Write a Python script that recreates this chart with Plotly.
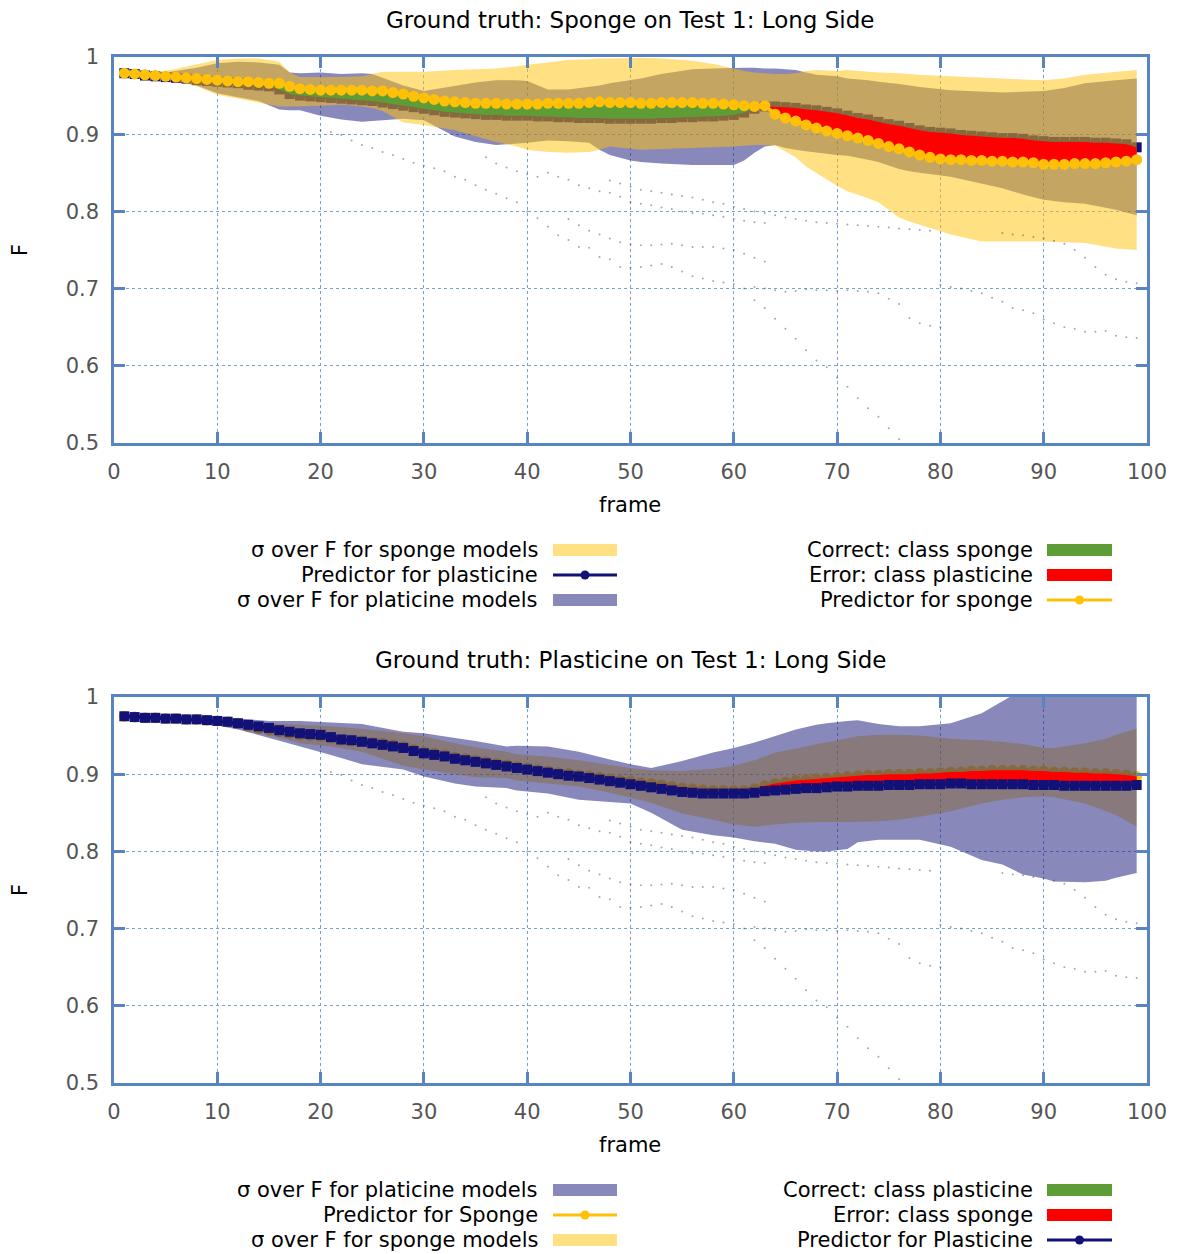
import plotly.graph_objects as go

W, H = 1182, 1254
frames = list(range(1, 100))

# ---------------- TOP: ground truth sponge ----------------
top_sponge_pred = [0.979,0.978,0.977,0.976,0.975,0.974,0.973,0.972,0.971,0.970,
 0.969,0.968,0.968,0.967,0.966,0.966,0.962,0.959,0.958,0.957,
 0.957,0.957,0.957,0.957,0.956,0.956,0.954,0.952,0.949,0.947,
 0.945,0.943,0.942,0.941,0.940,0.940,0.940,0.939,0.939,0.939,
 0.939,0.940,0.940,0.940,0.940,0.941,0.942,0.941,0.941,0.941,
 0.940,0.940,0.941,0.941,0.941,0.941,0.940,0.940,0.939,0.938,
 0.937,0.936,0.937,0.926,0.921,0.917,0.912,0.908,0.904,0.901,
 0.898,0.895,0.892,0.888,0.884,0.881,0.877,0.873,0.870,0.868,
 0.867,0.867,0.866,0.866,0.865,0.865,0.864,0.864,0.863,0.861,
 0.861,0.861,0.862,0.862,0.862,0.863,0.864,0.865,0.867]
top_plast_pred = [0.979,0.978,0.976,0.975,0.974,0.973,0.972,0.970,0.969,0.968,
 0.967,0.966,0.964,0.963,0.962,0.958,0.952,0.950,0.949,0.948,
 0.947,0.946,0.945,0.944,0.943,0.941,0.939,0.937,0.935,0.933,
 0.931,0.929,0.928,0.927,0.926,0.925,0.925,0.924,0.924,0.924,
 0.923,0.923,0.922,0.922,0.921,0.921,0.921,0.920,0.920,0.920,
 0.920,0.920,0.921,0.921,0.922,0.922,0.923,0.923,0.924,0.925,
 0.928,0.933,0.936,0.936,0.935,0.934,0.932,0.931,0.929,0.927,
 0.924,0.921,0.919,0.916,0.913,0.911,0.908,0.905,0.903,0.902,
 0.901,0.899,0.898,0.897,0.896,0.895,0.895,0.894,0.892,0.891,
 0.890,0.890,0.890,0.890,0.889,0.889,0.888,0.887,0.883]

top_band_frames = [1,3,5,8,10,12,14,16,17,18,20,22,24,25,26,28,30,33,35,37,39,40,42,44,46,47,48,50,51,53,
                   56,58,60,61,62,63,64,65,66,67,68,70,71,73,74,76,77,78,81,84,86,88,90,92,94,97,99]
top_sponge_up = [.982,.981,.982,.990,.996,.998,.998,.994,.980,.974,.974,.974,.975,.978,.981,.981,.981,.983,.984,.985,
                 .988,.990,.993,.996,.997,.998,.998,.999,.999,.998,.995,.991,.985,.982,.980,.979,.978,.978,.979,.982,
                 .983,.982,.983,.981,.980,.979,.978,.977,.975,.973,.972,.971,.970,.972,.977,.981,.983]
top_sponge_lo = [.976,.974,.972,.962,.951,.946,.941,.936,.936,.936,.937,.938,.936,.934,.930,.915,.912,.905,.898,.890,
                 .884,.880,.877,.876,.877,.880,.884,.881,.880,.881,.882,.883,.884,.885,.886,.886,.885,.878,.870,.858,
                 .850,.833,.826,.817,.812,.792,.787,.782,.770,.761,.761,.761,.761,.760,.759,.752,.750]
top_plast_up = [.980,.979,.980,.986,.992,.994,.993,.990,.980,.979,.980,.978,.979,.978,.973,.963,.956,.963,.967,.970,
                .970,.969,.958,.958,.961,.963,.966,.970,.972,.978,.984,.985,.986,.986,.986,.985,.985,.984,.983,.980,
                .977,.975,.972,.970,.968,.965,.963,.961,.957,.955,.954,.955,.956,.960,.966,.970,.972]
top_plast_lo = [.975,.974,.973,.963,.953,.948,.943,.932,.931,.931,.924,.919,.916,.917,.918,.920,.918,.897,.890,.886,
                .888,.889,.892,.891,.889,.880,.873,.866,.864,.862,.860,.860,.860,.866,.876,.884,.886,.882,.880,.878,
                .876,.873,.872,.867,.864,.855,.852,.850,.845,.836,.830,.822,.815,.812,.810,.802,.795]

# ---------------- BOTTOM: ground truth plasticine ----------------
bot_plast_pred = [0.975,0.974,0.973,0.973,0.972,0.972,0.971,0.971,0.970,0.969,
 0.968,0.966,0.964,0.962,0.960,0.957,0.955,0.953,0.952,0.951,
 0.948,0.945,0.944,0.942,0.940,0.938,0.936,0.934,0.930,0.927,
 0.925,0.923,0.920,0.918,0.916,0.914,0.912,0.910,0.908,0.906,
 0.904,0.902,0.900,0.898,0.897,0.895,0.893,0.891,0.889,0.887,
 0.885,0.883,0.881,0.879,0.877,0.876,0.875,0.875,0.875,0.875,
 0.875,0.876,0.878,0.879,0.880,0.881,0.882,0.882,0.883,0.884,
 0.884,0.885,0.885,0.885,0.886,0.886,0.886,0.887,0.887,0.887,
 0.888,0.888,0.887,0.887,0.887,0.887,0.887,0.887,0.886,0.886,
 0.886,0.885,0.885,0.885,0.885,0.885,0.885,0.885,0.886]
bot_sponge_pred = [0.975,0.974,0.973,0.973,0.972,0.972,0.971,0.971,0.970,0.969,
 0.968,0.966,0.962,0.959,0.957,0.955,0.953,0.951,0.950,0.949,
 0.947,0.944,0.943,0.943,0.941,0.940,0.938,0.936,0.932,0.929,
 0.927,0.925,0.922,0.920,0.918,0.916,0.914,0.912,0.910,0.908,
 0.906,0.904,0.902,0.901,0.899,0.898,0.896,0.894,0.892,0.891,
 0.889,0.888,0.886,0.884,0.882,0.881,0.880,0.879,0.879,0.879,
 0.879,0.881,0.885,0.888,0.890,0.892,0.893,0.894,0.895,0.896,
 0.897,0.898,0.899,0.899,0.900,0.900,0.900,0.901,0.901,0.902,
 0.903,0.903,0.904,0.904,0.905,0.905,0.905,0.905,0.904,0.904,
 0.903,0.903,0.902,0.902,0.901,0.901,0.900,0.899,0.897]

bot_band_frames = [1,3,5,8,10,12,13,15,18,21,24,28,30,33,35,38,39,42,45,48,50,52,55,58,60,62,64,66,68,69,
                   71,72,74,76,78,81,84,86,88,90,91,94,96,97,99]
bot_plast_up = [.978,.977,.976,.975,.974,.972,.971,.969,.969,.967,.965,.955,.953,.947,.943,.936,.937,.936,.929,.919,
                .913,.908,.917,.928,.934,.941,.950,.958,.964,.966,.969,.970,.965,.962,.962,.966,.979,.995,1.01,1.02,
                1.02,1.02,1.02,1.02,1.02]
bot_plast_lo = [.972,.971,.970,.967,.963,.958,.955,.947,.936,.925,.913,.906,.897,.888,.884,.882,.879,.875,.867,.864,
                .862,.850,.828,.821,.818,.813,.810,.802,.800,.800,.803,.812,.815,.815,.815,.806,.789,.783,.770,.765,
                .761,.760,.762,.766,.772]
bot_sponge_up = [.977,.976,.975,.974,.972,.970,.969,.966,.964,.962,.959,.953,.949,.940,.935,.929,.926,.923,.918,.912,
                 .908,.905,.904,.907,.911,.918,.928,.933,.939,.941,.947,.949,.951,.951,.950,.946,.944,.942,.939,.934,
                 .934,.940,.946,.951,.959]
bot_sponge_lo = [.974,.972,.971,.969,.966,.962,.958,.951,.940,.936,.929,.911,.906,.900,.896,.895,.892,.888,.884,.876,
                 .870,.863,.849,.841,.835,.832,.835,.837,.838,.838,.838,.838,.839,.841,.845,.852,.862,.867,.870,.871,
                 .870,.862,.852,.847,.832]

# ---------------- individual model traces (faint dots, same in both panels) ----------------
model_a_frames = list(range(20, 77))
model_a_vals = [.905,.903,.899,.892,.886,.882,.877,.873,.868,.863,.859,.856,.852,.845,.841,.834,.828,.823,.817,.812,
                .800,.791,.780,.769,.763,.754,.753,.741,.738,.728,.727,.728,.730,.732,.728,.722,.716,.713,.710,.708,
                .706,.700,.685,.675,.661,.648,.635,.620,.607,.598,.585,.573,.558,.545,.534,.519,.505]
model_b_frames = list(range(36, 64))
model_b_vals = [.870,.862,.857,.852,.848,.845,.850,.845,.841,.834,.830,.826,.824,.819,.812,.810,.808,.805,.803,.800,
                .798,.797,.795,.793,.790,.788,.786,.785]
model_c_frames = list(range(44, 64))
model_c_vals = [.790,.782,.775,.770,.765,.760,.757,.756,.756,.757,.758,.756,.754,.754,.754,.752,.750,.745,.740,.735]
model_d_frames = list(range(62, 81))
model_d_vals = [.702,.700,.698,.696,.697,.699,.698,.698,.697,.698,.697,.696,.694,.687,.680,.662,.655,.652,.650]
model_e_frames = list(range(80, 100))
model_e_vals = [.705,.702,.700,.697,.694,.688,.683,.675,.672,.668,.660,.655,.650,.648,.644,.644,.645,.639,.637,.636]
model_f_frames = list(range(86, 100))
model_f_vals = [.772,.770,.769,.767,.765,.762,.758,.750,.740,.728,.718,.712,.709,.707]
model_g_frames = list(range(48, 80))
model_g_vals = [.840,.836,.832,.828,.826,.824,.822,.820,.818,.815,.812,.810,.806,.803,.800,.798,.795,.792,.790,.788,
                .786,.785,.784,.783,.782,.781,.780,.779,.778,.777,.776,.775]

# ---------------- styling ----------------
YEL = "rgb(255,193,7)"
NAVY = "rgb(17,17,119)"
YEL_BAND = "rgba(255,193,7,0.5)"
NAVY_BAND = "rgba(17,17,119,0.5)"
GREEN = "rgb(94,156,53)"
RED = "rgb(255,0,0)"
FRAME = "#5884c2"
GRID = "#7a9fd6"
FONT = "DejaVu Sans"

fig = go.Figure()


def band(xs, up, lo, color, ax):
    fig.add_trace(go.Scatter(x=xs + xs[::-1], y=up + lo[::-1], mode="lines", fill="toself",
                             fillcolor=color, line=dict(width=0), hoverinfo="skip",
                             showlegend=False, xaxis=ax[0], yaxis=ax[1]))


def predictor(ys, color, symbol, size, ax):
    fig.add_trace(go.Scatter(x=frames, y=ys, mode="lines+markers",
                             line=dict(color=color, width=3.5),
                             marker=dict(symbol=symbol, size=size, color=color, line=dict(width=0)),
                             showlegend=False, xaxis=ax[0], yaxis=ax[1]))


def class_fill(xs, a, b, ax):
    """fill between predictor a (correct class) and b; green where a>=b, red otherwise"""
    polys = []
    top = [(xs[0], a[0])]
    bot = [(xs[0], b[0])]
    sign = a[0] >= b[0]
    for i in range(len(xs) - 1):
        d0 = a[i] - b[i]
        d1 = a[i + 1] - b[i + 1]
        s1 = d1 >= 0
        if s1 != sign:
            t = d0 / (d0 - d1)
            xc = xs[i] + t * (xs[i + 1] - xs[i])
            yc = a[i] + t * (a[i + 1] - a[i])
            top.append((xc, yc)); bot.append((xc, yc))
            polys.append((top, bot, sign))
            top = [(xc, yc)]; bot = [(xc, yc)]
            sign = s1
        top.append((xs[i + 1], a[i + 1])); bot.append((xs[i + 1], b[i + 1]))
    polys.append((top, bot, sign))
    for tp, bt, s in polys:
        px_ = [p[0] for p in tp] + [p[0] for p in reversed(bt)]
        py_ = [p[1] for p in tp] + [p[1] for p in reversed(bt)]
        fig.add_trace(go.Scatter(x=px_, y=py_, mode="lines", fill="toself",
                                 fillcolor=GREEN if s else RED, line=dict(width=0),
                                 hoverinfo="skip", showlegend=False, xaxis=ax[0], yaxis=ax[1]))


def models(ax):
    for fx, fy in [(model_a_frames, model_a_vals), (model_b_frames, model_b_vals),
                   (model_c_frames, model_c_vals), (model_d_frames, model_d_vals),
                   (model_e_frames, model_e_vals), (model_f_frames, model_f_vals),
                   (model_g_frames, model_g_vals)]:
        fig.add_trace(go.Scatter(x=fx, y=fy, mode="markers",
                                 marker=dict(size=2, color="rgba(80,80,80,0.5)", line=dict(width=0)),
                                 showlegend=False, xaxis=ax[0], yaxis=ax[1]))


TOP = ("x", "y")
BOT = ("x2", "y2")

# top panel draw order
predictor(top_plast_pred, NAVY, "square", 10, TOP)
band(top_band_frames, top_plast_up, top_plast_lo, NAVY_BAND, TOP)
band(top_band_frames, top_sponge_up, top_sponge_lo, YEL_BAND, TOP)
models(TOP)
class_fill(frames, top_sponge_pred, top_plast_pred, TOP)
predictor(top_sponge_pred, YEL, "circle", 11, TOP)

# bottom panel draw order
predictor(bot_sponge_pred, YEL, "circle", 11, BOT)
band(bot_band_frames, bot_sponge_up, bot_sponge_lo, YEL_BAND, BOT)
band(bot_band_frames, bot_plast_up, bot_plast_lo, NAVY_BAND, BOT)
models(BOT)
class_fill(frames, bot_plast_pred, bot_sponge_pred, BOT)
predictor(bot_plast_pred, NAVY, "square", 10, BOT)


def px(x):
    return x / W


def py(y):
    return 1 - y / H


xdom = [px(114), px(1147)]
axis_common = dict(ticks="inside", ticklen=11, tickwidth=2.5, tickcolor=FRAME,
                   showline=True, linecolor=FRAME, linewidth=2.5, mirror="allticks",
                   showgrid=True, gridcolor=GRID, griddash="dot", gridwidth=1,
                   zeroline=False, tickfont=dict(family=FONT, size=21, color="#555555"),
                   ticklabelstandoff=8)
xt = dict(range=[0, 100], tickvals=list(range(0, 101, 10)), **axis_common)
yvals = [0.5, 0.6, 0.7, 0.8, 0.9, 1.0]
ytext = ["0.5", "0.6", "0.7", "0.8", "0.9", "1"]
yt = dict(range=[0.5, 1.0], tickvals=yvals, ticktext=ytext, **axis_common)

fig.update_layout(
    width=W, height=H, margin=dict(l=0, r=0, t=0, b=0, autoexpand=False),
    paper_bgcolor="white", plot_bgcolor="white", showlegend=False,
    xaxis=dict(domain=xdom, anchor="y", **xt),
    yaxis=dict(domain=[py(443), py(57)], anchor="x", **yt),
    xaxis2=dict(domain=xdom, anchor="y2", **xt),
    yaxis2=dict(domain=[py(1083), py(697)], anchor="x2", **yt),
)

ann = []
shapes = []


def text(x, y, s, anchor="center", size=21, angle=0, color="black"):
    ann.append(dict(x=px(x), y=py(y), xref="paper", yref="paper", text=s, showarrow=False,
                    xanchor=anchor, yanchor="middle", textangle=angle,
                    font=dict(family=FONT, size=size, color=color)))


text(630, 20, "Ground truth: Sponge on Test 1: Long Side", size=23)
text(630, 660, "Ground truth: Plasticine on Test 1: Long Side", size=23)
text(630, 505, "frame")
text(630, 1145, "frame")
text(20, 250, "F", angle=-90)
text(20, 890, "F", angle=-90)


def key(x_text, x0, x1, yc, label, kind, color):
    text(x_text, yc, label, anchor="right")
    if kind == "rect":
        shapes.append(dict(type="rect", xref="paper", yref="paper", x0=px(x0), x1=px(x1),
                           y0=py(yc + 6), y1=py(yc - 6), fillcolor=color, line=dict(width=0)))
    else:
        shapes.append(dict(type="line", xref="paper", yref="paper", x0=px(x0), x1=px(x1),
                           y0=py(yc), y1=py(yc), line=dict(color=color, width=3)))
        xm = (x0 + x1) / 2
        shapes.append(dict(type="circle", xref="paper", yref="paper", x0=px(xm - 4.5), x1=px(xm + 4.5),
                           y0=py(yc + 4.5), y1=py(yc - 4.5), fillcolor=color, line=dict(width=0)))


LT, L0, L1 = 540, 553, 617
RT, R0, R1 = 1035, 1047, 1112
key(LT, L0, L1, 550, "σ over F for sponge models", "rect", YEL_BAND)
key(LT, L0, L1, 575, "Predictor for plasticine", "line", NAVY)
key(LT, L0, L1, 600, "σ over F for platicine models", "rect", NAVY_BAND)
key(RT, R0, R1, 550, "Correct: class sponge", "rect", GREEN)
key(RT, R0, R1, 575, "Error: class plasticine", "rect", RED)
key(RT, R0, R1, 600, "Predictor for sponge", "line", YEL)

key(LT, L0, L1, 1190, "σ over F for platicine models", "rect", NAVY_BAND)
key(LT, L0, L1, 1215, "Predictor for Sponge", "line", YEL)
key(LT, L0, L1, 1240, "σ over F for sponge models", "rect", YEL_BAND)
key(RT, R0, R1, 1190, "Correct: class plasticine", "rect", GREEN)
key(RT, R0, R1, 1215, "Error: class sponge", "rect", RED)
key(RT, R0, R1, 1240, "Predictor for Plasticine", "line", NAVY)

fig.update_layout(annotations=ann, shapes=shapes)
fig.write_html("out.html", config={"displayModeBar": False},
               post_script="document.body.style.margin='0';document.body.style.overflow='hidden';")
